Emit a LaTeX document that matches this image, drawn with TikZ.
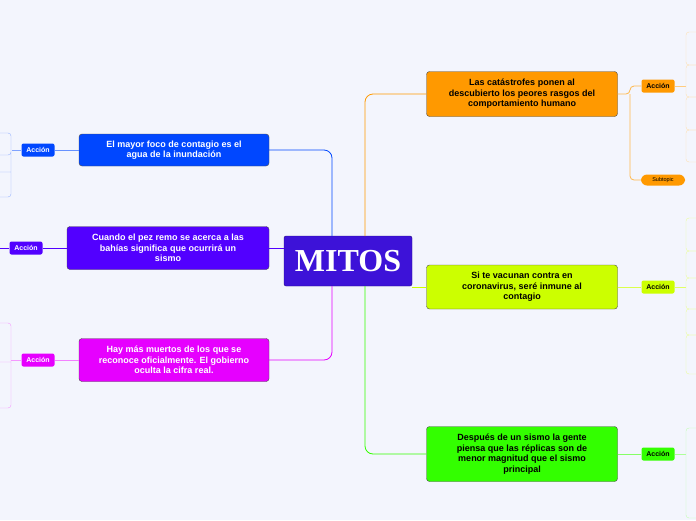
\documentclass[tikz,border=0pt]{standalone}
\usepackage{fontspec}
\setmainfont{Liberation Serif}
\setsansfont{Liberation Sans}
\usetikzlibrary{positioning}
\definecolor{bgcol}{HTML}{F3F5FD}
\definecolor{cmain}{HTML}{3D12D8}
\definecolor{cblue}{HTML}{0047FF}
\definecolor{cpurple}{HTML}{5200FF}
\definecolor{cmag}{HTML}{E600FF}
\definecolor{corange}{HTML}{FF9900}
\definecolor{clime}{HTML}{CCFF00}
\definecolor{cgreen}{HTML}{33FF00}
\begin{document}
\begin{tikzpicture}[
      x=1pt, y=-1pt,
      topic/.style={draw=black!70, rounded corners=3pt, align=center, inner sep=2pt,
        font=\sffamily\bfseries\fontsize{9}{10.5}\selectfont, minimum height=32pt},
      accion/.style={rounded corners=2pt, minimum width=33pt, minimum height=13pt, inner sep=1pt,
        font=\sffamily\bfseries\fontsize{7}{8}\selectfont},
      link/.style={thick, rounded corners=8pt},
      stub/.style={thin, rounded corners=3pt}
    ]
    \useasboundingbox[fill=bgcol] (0,0) rectangle (696,520);
    % Central topic.
    \node[draw=cmain!60!black, fill=cmain, text=white, rounded corners=2pt, minimum width=128pt,
      minimum height=50pt, font=\rmfamily\bfseries\fontsize{32}{34}\selectfont] (mitos) at (348,261) {MITOS};
    % Left topics.
    \node[topic, fill=cblue, text=white, minimum width=190pt] (foco) at (174,150)
      {El mayor foco de contagio es el\\agua de la inundación};
    \node[topic, fill=cpurple, text=white, minimum width=202pt, minimum height=43pt] (pez) at (168,248)
      {Cuando el pez remo se acerca a las\\bahías significa que ocurrirá un\\sismo};
    \node[topic, fill=cmag, text=white, minimum width=190pt, minimum height=43pt] (muertos) at (174,360)
      {Hay más muertos de los que se\\reconoce oficialmente. El gobierno\\oculta la cifra real.};
    % Right topics.
    \node[topic, fill=corange, minimum width=191pt, minimum height=45pt] (catas) at (522,94)
      {Las catástrofes ponen al\\descubierto los peores rasgos del\\comportamiento humano};
    \node[topic, fill=clime, minimum width=191pt, minimum height=44pt] (vacuna) at (522,287)
      {Si te vacunan contra en\\coronavirus, seré inmune al\\contagio};
    \node[topic, fill=cgreen, minimum width=191pt, minimum height=55pt] (sismo) at (522,454)
      {Después de un sismo la gente\\piensa que las réplicas son de\\menor magnitud que el sismo\\principal};
    % Subtopics.
    \node[accion, fill=cblue, text=white] (acc1) at (38,150) {Acción};
    \node[accion, fill=cpurple, text=white] (acc2) at (26,248) {Acción};
    \node[accion, fill=cmag, text=white] (acc3) at (38,360) {Acción};
    \node[accion, fill=corange] (acc4) at (658,86) {Acción};
    \node[accion, fill=corange, rounded corners=6pt, minimum width=44pt, minimum height=11pt,
      font=\sffamily\fontsize{5.5}{6}\selectfont] (sub4) at (663,180) {Subtopic};
    \node[accion, fill=clime] (acc5) at (658,287) {Acción};
    \node[accion, fill=cgreen] (acc6) at (658,454) {Acción};
    % Branches from the central topic.
    \draw[link, cblue] (foco.east) -| (332,236);
    \draw[link, cpurple] (pez.east |- 0,248) -- (mitos.west |- 0,248);
    \draw[link, cmag] (muertos.east) -| (332,286);
    \draw[link, corange] (catas.west) -| (365,236);
    \draw[link, clime] (mitos.east |- 0,287) -- (vacuna.west);
    \draw[link, cgreen] (sismo.west) -| (365,286);
    % Branches to the subtopics.
    \draw[link, cblue!60] (foco.west) -- (acc1.east);
    \draw[link, cpurple] (pez.west) -- (acc2.east);
    \draw[link, cmag!50] (muertos.west) -- (acc3.east);
    \draw[link, corange!70, rounded corners=4pt] (catas.east) -- (630,94) |- (acc4.west);
    \draw[link, corange!70, rounded corners=4pt] (630,94) |- (sub4.west);
    \draw[link, clime!70!white] (vacuna.east) -- (acc5.west);
    \draw[link, cgreen!60] (sismo.east) -- (acc6.west);
    % Leaves cut off by the page edge.
    \draw[link, cblue!50] (acc1.west) -- (12,150);
    \draw[stub, cblue!40] (0,133) -| (11,197) -- (0,197) (0,155) -| (11,155) (0,172) -- (11,172);
    \draw[link, cpurple] (acc2.west) -- (0,248);
    \draw[link, cmag!40] (acc3.west) -- (11,360);
    \draw[stub, cmag!40] (0,323) -| (11,408) -- (0,408) (0,362) -- (11,362);
    \draw[link, corange!50] (acc4.east) -- (686,86);
    \foreach \ya/\yb in {32/65,65/97,97/130,130/162}
      \draw[stub, corange!30] (700,\ya) -| (686,\yb) -- (700,\yb);
    \draw[link, clime!60] (acc5.east) -- (686,287);
    \foreach \ya/\yb in {218/251,251/278,278/309,309/335,335/374}
      \draw[stub, clime!40] (700,\ya) -| (686,\yb) -- (700,\yb);
    \draw[link, cgreen!40] (acc6.east) -- (686,454);
    \draw[stub, cgreen!30] (700,428) -| (686,518) -- (700,518);
\end{tikzpicture}
\end{document}
